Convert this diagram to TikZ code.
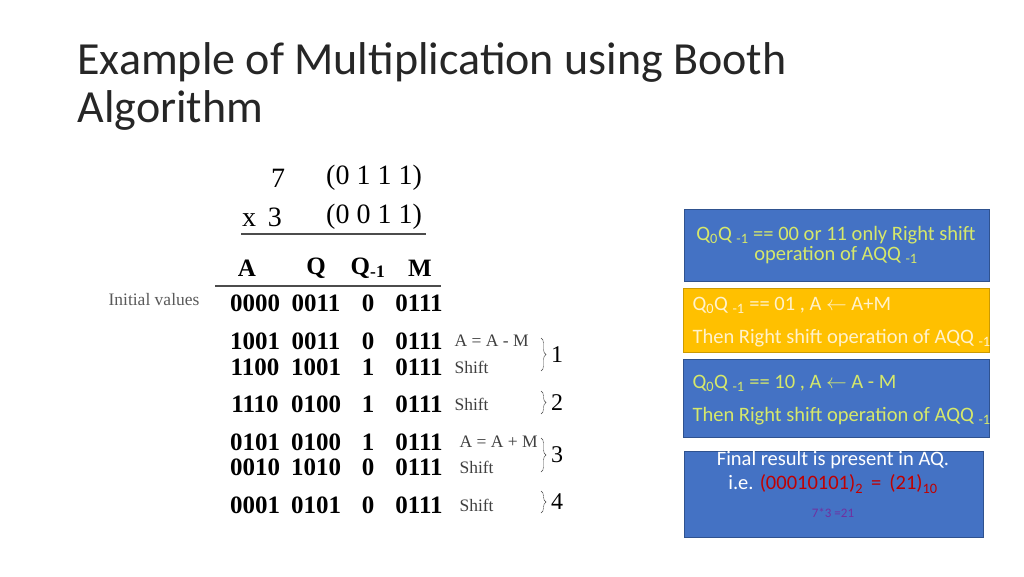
\documentclass[tikz,border=0pt]{standalone}
\usepackage{fontspec}
\setmainfont{Carlito}
\newfontfamily\tabfont{Liberation Serif}
\usetikzlibrary{decorations.pathreplacing}
\definecolor{boxblue}{HTML}{4472C4}
\definecolor{boxedge}{HTML}{2F528F}
\definecolor{boxorange}{HTML}{FFC000}
\definecolor{txtgreen}{HTML}{D6E86A}
\definecolor{txtpale}{HTML}{FFF2CC}
\definecolor{resred}{HTML}{C00000}
\definecolor{smallpurple}{HTML}{7030A0}
\tikzset{
  cell/.style={font=\tabfont\bfseries\fontsize{25}{25}\selectfont, anchor=center},
  top/.style={font=\tabfont\fontsize{28}{28}\selectfont, anchor=center},
  op/.style={font=\tabfont\fontsize{17.5}{17.5}\selectfont, anchor=west, text=black!75},
  rulebox/.style={draw=boxedge, line width=1pt},
  boxtext/.style={font=\fontsize{20.5}{20.5}\selectfont},
}
\newcommand{\sm}{\textsubscript{-1}}
\begin{document}
\begin{tikzpicture}[x=1pt,y=-1pt]
\useasboundingbox (0,0) rectangle (1024,576);
\node[anchor=west, font=\fontsize{46}{46}\selectfont, text=black!85] (title1) at (74,62) {Example of Multiplication using Booth};
\node[anchor=west, font=\fontsize{46}{46}\selectfont, text=black!85] (title2) at (74,110) {Algorithm};
% multiplication
\node[top] (n7) at (278,178) {7};
\node[top] (b7) at (374,178) {(0 1 1 1)};
\node[top] (n3) at (262,217) {x\, 3};
\node[top] (b3) at (374,217) {(0 0 1 1)};
\draw[line width=1.2pt, black!70] (241,234) -- (426,234);
% table
\node[cell] (hA) at (247,268) {A};
\node[cell] (hQ) at (316,268) {Q};
\node[cell] (hQm) at (368,268) {Q\textsubscript{-1}};
\node[cell] (hM) at (420,268) {M};
\draw[line width=1.2pt, black!70] (215,286) -- (441,286);
\node[font=\tabfont\fontsize{17.5}{17.5}\selectfont, text=black!65] (init) at (154,300) {Initial values};
\foreach \r/\y/\a/\q/\qm in {0/303/0000/0011/0, 1/341/1001/0011/0, 2/367/1100/1001/1,
    3/404/1110/0100/1, 4/442/0101/0100/1, 5/467/0010/1010/0, 6/505/0001/0101/0} {
  \node[cell] (a\r) at (255,\y) {\a};
  \node[cell] (q\r) at (316,\y) {\q};
  \node[cell] (qm\r) at (368,\y) {\qm};
  \node[cell] (m\r) at (419,\y) {0111};
}
\node[op] (op1) at (451,341) {A = A - M};
\node[op] (op2) at (451,367) {Shift};
\node[op] (op3) at (451,404) {Shift};
\node[op] (op4) at (456,442) {A = A + M};
\node[op] (op5) at (456,467) {Shift};
\node[op] (op6) at (456,505) {Shift};
\draw[decorate, decoration={brace, amplitude=5pt}, black!75] (541,338) -- (541,371);
\draw[decorate, decoration={brace, amplitude=5pt}, black!75] (541,391) -- (541,414);
\draw[decorate, decoration={brace, amplitude=5pt}, black!75] (541,438) -- (541,472);
\draw[decorate, decoration={brace, amplitude=5pt}, black!75] (541,491) -- (541,513);
\node[top, font=\tabfont\fontsize{24}{24}\selectfont] (s1) at (557,355) {1};
\node[top, font=\tabfont\fontsize{24}{24}\selectfont] (s2) at (557,403) {2};
\node[top, font=\tabfont\fontsize{24}{24}\selectfont] (s3) at (557,455) {3};
\node[top, font=\tabfont\fontsize{24}{24}\selectfont] (s4) at (557,502) {4};
% rule boxes
\fill[boxblue, rulebox] (684,209) rectangle (989,281);
\node[boxtext, text=txtgreen, align=center] (rule1) at (836,245) {Q\textsubscript{0}Q \sm{} == 00 or 11 only Right shift\\[0pt]operation of AQQ \sm};
\fill[boxorange, draw=boxorange!80!black] (683,288) rectangle (989,352);
\node[boxtext, text=txtpale, anchor=west] (rule2a) at (689,305) {Q\textsubscript{0}Q \sm{} == 01 , A $\leftarrow$ A+M};
\node[boxtext, text=txtpale, anchor=west] (rule2b) at (689,338) {Then Right shift operation of AQQ \sm};
\fill[boxblue, rulebox] (683,359) rectangle (989,437);
\node[boxtext, text=txtgreen, anchor=west] (rule3a) at (689,383) {Q\textsubscript{0}Q \sm{} == 10 , A $\leftarrow$ A - M};
\node[boxtext, text=txtgreen, anchor=west] (rule3b) at (689,416) {Then Right shift operation of AQQ \sm};
\fill[boxblue, rulebox] (684,451) rectangle (983,537);
\node[boxtext, text=white] (res1) at (833,460) {Final result is present in AQ.};
\node[boxtext, text=white] (res2) at (833,484) {i.e. \textcolor{resred}{(00010101)\textsubscript{2} \,= \,(21)\textsubscript{10}}};
\node[font=\fontsize{13}{13}\selectfont, text=smallpurple] (res3) at (833,513) {7*3 =21};
\end{tikzpicture}
\end{document}
